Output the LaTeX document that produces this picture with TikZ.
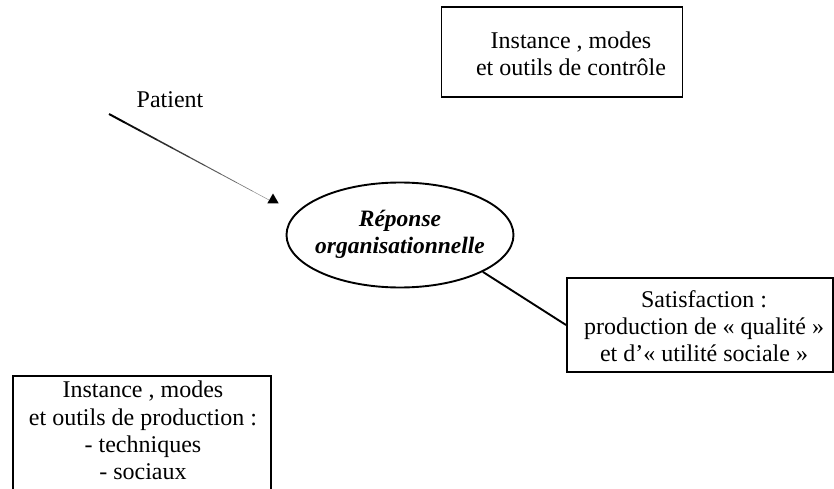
\documentclass[tikz,border=0pt]{standalone}
\usepackage{fontspec}
\setmainfont{Liberation Serif}
\usetikzlibrary{shapes.geometric,calc}
\tikzset{
  frame/.style={draw, line width=1.9pt, inner sep=0pt},
  txt/.style={align=center, inner sep=0pt, font=\fontsize{24}{27.3}\selectfont},
  conn/.style={line width=1.9pt},
}
\begin{document}
\begin{tikzpicture}[x=1pt,y=-1pt]
\useasboundingbox (0,0) rectangle (834,489);
\clip (0,0) rectangle (834,489);
% top box
\node[frame, minimum width=241, minimum height=90] (ctrl) at (562,52) {};
\node[txt] (ctrltext) at ($(ctrl.center)+(9,2)$)
  {Instance , modes\\et outils de contrôle};
% satisfaction box
\node[frame, minimum width=266, minimum height=94] (sat) at (700,325) {};
\node[txt] (sattext) at ($(sat.center)+(4,1)$)
  {Satisfaction :\\production de « qualité »\\et d’« utilité sociale »};
% production box (runs past the bottom edge)
\node[frame, minimum width=258, minimum height=130, anchor=north west] (prodbox) at (12,375) {};
\node[txt, anchor=north] (prod) at ($(prodbox.north)+(1,6)$)
  {Instance , modes\\et outils de production :\\- techniques\\- sociaux};
% ellipse
\node[ellipse, draw, line width=1.9pt, minimum width=227, minimum height=105, inner sep=0pt] (ell) at (400,235) {};
\node[align=center, inner sep=0pt, font=\fontsize{23.5}{26.7}\selectfont\bfseries\itshape] (elltext) at ($(ell.center)+(0,-1)$)
  {Réponse\\organisationnelle};
% patient
\node[txt] (pat) at (170,100) {Patient};
\coordinate (pstart) at (109,114);
\node[regular polygon, regular polygon sides=3, fill=black, inner sep=0pt, minimum size=13] (tip) at (273,200) {};
\foreach \i in {0,...,9}{
  \pgfmathsetmacro{\lw}{2.0-0.17*\i}
  \pgfmathsetmacro{\gr}{100-6*\i}
  \draw[line width=\lw pt, black!\gr] ($(pstart)!\i/10!(tip.west)$) -- ($(pstart)!\i/10+0.1!(tip.west)$);
}
% connector
\draw[conn] (ell.-24) -- (sat.west);
\end{tikzpicture}
\end{document}
